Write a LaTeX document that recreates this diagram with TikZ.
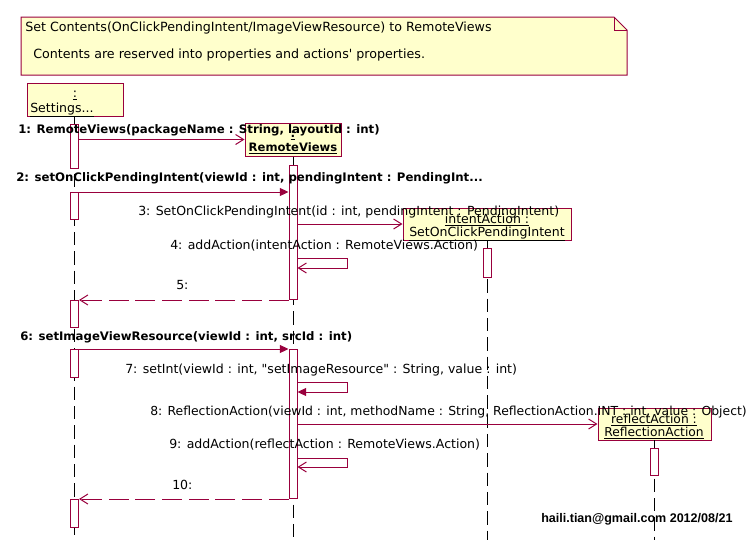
\documentclass[tikz,border=0pt]{standalone}
\usepackage{fontspec}
\setmainfont{DejaVu Sans}[Ligatures=TeXOff]
\newfontfamily\footfont{Liberation Sans}
\usetikzlibrary{arrows.meta}
\definecolor{uml}{HTML}{99003D}
\definecolor{notefill}{HTML}{FFFFCC}
\tikzset{
  obj/.style={draw=uml, fill=notefill, line width=0.75pt, inner sep=0pt},
  actbox/.style={draw=uml, fill=white, line width=0.75pt, minimum width=6pt, inner sep=0pt, anchor=north},
  lifeline/.style={draw=black, line width=0.75pt, dash pattern=on 10pt off 4.5pt},
  msg/.style={draw=uml, line width=0.75pt, -{Straight Barb[length=6pt,width=7.5pt,line width=0.75pt]}},
  call/.style={draw=uml, line width=0.75pt, -{Triangle[length=6.5pt,width=6pt]}},
  ret/.style={draw=uml, line width=0.75pt, dash pattern=on 15pt off 5pt, -{Straight Barb[length=6pt,width=7.5pt,line width=0.75pt]}},
  lbl/.style={inner sep=0pt, anchor=base west, font=\fontsize{9.4}{11}\selectfont},
  blbl/.style={inner sep=0pt, anchor=base west, font=\fontsize{8.8}{10.5}\selectfont\bfseries},
  otxt/.style={inner sep=0pt, anchor=base, font=\fontsize{9.4}{11}\selectfont},
}
\begin{document}
\begin{tikzpicture}[x=0.75pt, y=-0.75pt]
\useasboundingbox (0,0) rectangle (754,540);
% note
\draw[uml, fill=notefill, line width=0.75pt] (21,17) -- (614,17) -- (627,30) -- (627,75) -- (21,75) -- cycle;
\draw[uml, line width=0.75pt] (614,17) -- (614,30) -- (627,30);
\node[lbl, font=\fontsize{9.5}{11}\selectfont] (n1) at (25,31) {Set Contents(OnClickPendingIntent/ImageViewResource) to RemoteViews};
\node[lbl, font=\fontsize{9.5}{11}\selectfont] (n2) at (33,58) {Contents are reserved into properties and actions' properties.};
% object heads
\node[obj, minimum width=72pt, minimum height=24.75pt] (set) at (75,99.5) {};
\node[obj, minimum width=72pt, minimum height=24.75pt] (rv) at (293,139.5) {};
\node[obj, minimum width=126pt, minimum height=24pt] (ia) at (487,224) {};
\node[obj, minimum width=84.75pt, minimum height=24pt] (fa) at (654.5,424) {};
% lifeline ends
\coordinate (setend) at (74.5,540);
\coordinate (rvend) at (293,540);
\coordinate (iaend) at (487,540);
\coordinate (faend) at (654,540);
\draw[lifeline] (74.5,116) -- (setend);
\draw[lifeline] (rv.south) -- (rvend);
\draw[lifeline] (ia.south) -- (iaend);
\draw[lifeline] (654,440) -- (faend);
% activations
\node[actbox, minimum height=33pt] (s1) at (74.5,124) {};
\node[actbox, minimum height=20.25pt] (s2) at (74.5,192) {};
\node[actbox, minimum height=20.25pt] (s3) at (74.5,300) {};
\node[actbox, minimum height=21pt] (s4) at (74.5,349) {};
\node[actbox, minimum height=21pt] (s5) at (74.5,499) {};
\node[actbox, minimum height=100.5pt] (r1) at (293,165) {};
\node[actbox, minimum height=111.75pt] (r2) at (293,349) {};
\node[actbox, minimum height=21.75pt] (i1) at (487,248) {};
\node[actbox, minimum height=20.25pt] (f1) at (654,448) {};
% messages
\draw[msg] (s1.east |- rv.west) -- (rv.west);
\draw[call] (s2.north east) -- (r1.west |- s2.north);
\draw[msg] (r1.east |- ia.west) -- (ia.west);
\draw[msg] (r1.east |- 0,258) -- (347,258) -- (347,268) -- (r1.east |- 0,268);
\draw[ret] (r1.west |- s3.north) -- (s3.north east);
\draw[call] (s4.north east) -- (r2.north west);
\draw[call] (r2.east |- 0,382) -- (347,382) -- (347,392) -- (r2.east |- 0,392);
\draw[msg] (r2.east |- fa.west) -- (fa.west);
\draw[msg] (r2.east |- 0,458) -- (347,458) -- (347,467) -- (r2.east |- 0,467);
\draw[ret] (r2.south west) -- (s5.north east);
% object texts
\node[otxt] (sett1) at (75,97) {\underline{:}};
\node[otxt, anchor=base west] (sett2) at (30,112) {\underline{Settings...}};
\node[otxt, font=\fontsize{8.7}{10}\selectfont\bfseries] (rvt1) at (293,137) {\underline{:}};
\node[otxt, font=\fontsize{8.7}{10}\selectfont\bfseries] (rvt2) at (293,151) {\underline{RemoteViews}};
\node[otxt] (iat1) at (487,223) {\underline{intentAction :}};
\node[otxt] (iat2) at (487,236) {\underline{SetOnClickPendingIntent}};
\node[otxt, font=\fontsize{9.2}{11}\selectfont] (fat1) at (654,423) {\underline{reflectAction :}};
\node[otxt, font=\fontsize{9.2}{11}\selectfont] (fat2) at (654,436) {\underline{ReflectionAction}};
% message labels
\node[blbl] (l1) at (18,133) {1: RemoteViews(packageName : String, layoutId : int)};
\node[blbl] (l2) at (16,181) {2: setOnClickPendingIntent(viewId : int, pendingIntent : PendingInt...};
\node[lbl] (l3) at (138,215) {3: SetOnClickPendingIntent(id : int, pendingIntent : PendingIntent)};
\node[lbl] (l4) at (170,249) {4: addAction(intentAction : RemoteViews.Action)};
\node[lbl] (l5) at (176,289) {5:};
\node[blbl] (l6) at (20,340) {6: setImageViewResource(viewId : int, srcId : int)};
\node[lbl] (l7) at (125,373) {7: setInt(viewId : int, "setImageResource" : String, value : int)};
\node[lbl, font=\fontsize{9.3}{11}\selectfont] (l8) at (150,415) {8: ReflectionAction(viewId : int, methodName : String, ReflectionAction.INT : int, value : Object)};
\node[lbl] (l9) at (169,448) {9: addAction(reflectAction : RemoteViews.Action)};
\node[lbl] (l10) at (172,489) {10:};
\node[lbl, font=\fontsize{9.4}{11}\selectfont\footfont\bfseries] (foot) at (541,522) {haili.tian@gmail.com 2012/08/21};
\end{tikzpicture}
\end{document}
